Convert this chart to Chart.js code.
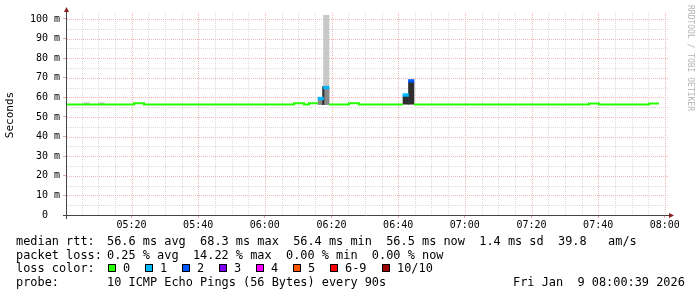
<!DOCTYPE html>
<html>
<head>
<meta charset="utf-8">
<script src="https://cdn.jsdelivr.net/npm/chart.js@4.4.1/dist/chart.umd.min.js"></script>
<style>
  html, body { margin: 0; padding: 0; background: #fff; }
  canvas { display: block; }
</style>
</head>
<body>
<canvas id="smoke" width="697" height="297" style="width:697px;height:297px"></canvas>
<script>
// time axis: minutes after 05:00:00, graph spans 05:00:39 .. 08:00:39
const xMin = 0.65, xMax = 180.65;
const xTickMinutes = [20, 40, 60, 80, 100, 120, 140, 160, 180];
const xTickLabels  = ['05:20', '05:40', '06:00', '06:20', '06:40', '07:00', '07:20', '07:40', '08:00'];
const yTickValues  = [0, 10, 20, 30, 40, 50, 60, 70, 80, 90, 100];
const yTickLabels  = ['0  ', '10 m', '20 m', '30 m', '40 m', '50 m', '60 m', '70 m', '80 m', '90 m', '100 m'];
const yMax = 102;

// median rtt without loss (ms), change points of a step line, null = gap
const medianMin = [0.65, 20.75, 23.75, 68.75, 71.75, 73.25, 75.95, 76.0, 79.25, 85.25, 88.25, 101.45, 101.5, 104.75, 157.25, 160.25, 175.25, 178.25];
const medianMs  = [56.4, 57.0,  56.4,  57.0,  56.4,  57.0,  57.0,  null, 56.4,  57.0,  56.4,  56.4,   null,  56.4,   56.9,   56.4,   56.9,   56.9];

// smoke (ping spread) per sample: light / mid / dark shades
const smokeLightMin = [6.5, 11.0, 78.43];
const smokeLightLo  = [56.4, 56.4, 56.5];
const smokeLightHi  = [57.3, 57.3, 102.0];
const smokeMidMin   = [76.78, 78.43];
const smokeMidLo    = [56.3, 56.3];
const smokeMidHi    = [58.8, 64.4];
const smokeDarkMin  = [102.27, 103.92];
const smokeDarkLo   = [56.5, 56.5];
const smokeDarkHi   = [60.8, 67.9];
const smokeEdgeMin  = [77.54];
const smokeEdgeLo   = [56.3];
const smokeEdgeHi   = [65.5];

// median rtt of samples with loss
const lossMin   = [76.78, 78.43, 102.27, 103.92];
const lossMs    = [59.4, 65.0, 61.2, 68.4];
const lossCount = [1, 1, 1, 2];

const lossColors = ['#26ff00', '#00b8ff', '#0059ff', '#7e00ff', '#ff00ff', '#ff5500', '#ff0000', '#a10000'];
const lossLabels = ['0', '1', '2', '3', '4', '5', '6-9', '10/10'];

const legendRows = [
  ['median rtt:',  '56.6 ms avg  68.3 ms max  56.4 ms min  56.5 ms now  1.4 ms sd  39.8   am/s'],
  ['packet loss:', '0.25 % avg  14.22 % max  0.00 % min  0.00 % now'],
  ['loss color:',  ''],
  ['probe:',       '10 ICMP Echo Pings (56 Bytes) every 90s'],
];
const dateStamp = 'Fri Jan  9 08:00:39 2026';
const watermark = 'RRDTOOL / TOBI OETIKER';

// ── helpers ───────────────────────────────────────────
const MONO = '"DejaVu Sans Mono", monospace';
const majorGrid = '#f2b8b8';
const minorGrid = '#dcdcdc';

const ranges = (xs, lo, hi) => xs.map((x, i) => ({ x, y: [lo[i], hi[i]] }));

function smokeSet(xs, lo, hi, color, thickness, order) {
  return {
    type: 'bar',
    data: ranges(xs, lo, hi),
    backgroundColor: color,
    borderWidth: 0,
    barThickness: thickness,
    grouped: false,
    order,
  };
}

const minorX = [];
for (let m = 5; m <= 180; m += 5) minorX.push(m);
const minorY = [];
for (let v = 5; v <= 100; v += 5) minorY.push(v);

// ── dotted rrd-style grid, drawn from the chart's own scales ──
const rrdGrid = {
  id: 'rrdGrid',
  beforeDatasetsDraw(chart) {
    const ctx = chart.ctx, a = chart.chartArea;
    const xs = chart.scales.x, ys = chart.scales.y;
    ctx.save();
    ctx.lineWidth = 1;
    ctx.setLineDash([1, 1]);
    const pass = major => {
      ctx.strokeStyle = major ? majorGrid : minorGrid;
      ctx.beginPath();
      minorY.filter(v => (v % 10 === 0) === major).forEach(v => {
        const py = Math.round(ys.getPixelForValue(v)) + 0.5;
        ctx.moveTo(a.left, py);
        ctx.lineTo(a.right + 1, py);
      });
      minorX.filter(m => xTickMinutes.includes(m) === major).forEach(m => {
        const px = Math.round(xs.getPixelForValue(m)) + 0.5;
        ctx.moveTo(px, a.top - 2);
        ctx.lineTo(px, a.bottom);
      });
      ctx.stroke();
    };
    pass(false);
    pass(true);
    ctx.restore();
  },
};

// ── extra drawing: axes, arrows, legend, watermark ────
const rrdDecor = {
  id: 'rrdDecor',
  beforeDraw(chart) {
    const ctx = chart.ctx;
    ctx.save();
    ctx.fillStyle = '#fff';
    ctx.fillRect(0, 0, chart.width, chart.height);
    ctx.restore();
  },
  afterDraw(chart) {
    const ctx = chart.ctx, a = chart.chartArea;
    ctx.save();

    // axes
    ctx.strokeStyle = '#444';
    ctx.lineWidth = 1;
    ctx.beginPath();
    ctx.moveTo(a.left - 0.5, a.top - 3);
    ctx.lineTo(a.left - 0.5, a.bottom + 4);
    ctx.moveTo(a.left - 4, a.bottom + 0.5);
    ctx.lineTo(a.right + 3, a.bottom + 0.5);
    ctx.stroke();

    // arrows
    ctx.fillStyle = '#8b1c1c';
    ctx.beginPath();
    ctx.moveTo(a.left - 3, a.top - 3);
    ctx.lineTo(a.left + 2, a.top - 3);
    ctx.lineTo(a.left - 0.5, a.top - 8);
    ctx.closePath();
    ctx.fill();
    ctx.beginPath();
    ctx.moveTo(a.right + 2, a.bottom - 2);
    ctx.lineTo(a.right + 2, a.bottom + 3);
    ctx.lineTo(a.right + 7, a.bottom + 0.5);
    ctx.closePath();
    ctx.fill();

    // legend
    ctx.font = '11.9px ' + MONO;
    ctx.fillStyle = '#000';
    ctx.textBaseline = 'middle';
    ctx.textAlign = 'left';
    const rowY = [241.5, 255.5, 269, 283];
    legendRows.forEach((r, i) => {
      ctx.fillText(r[0], 16, rowY[i]);
      if (r[1]) ctx.fillText(r[1], 107, rowY[i]);
    });
    ctx.fillText(dateStamp, 513, rowY[3]);

    const boxX = [108, 145, 182, 219, 256, 293, 330, 382];
    boxX.forEach((bx, i) => {
      ctx.fillStyle = lossColors[i];
      ctx.fillRect(bx, 264, 8, 8);
      ctx.strokeStyle = '#000';
      ctx.strokeRect(bx + 0.5, 264.5, 7, 7);
      ctx.fillStyle = '#000';
      ctx.fillText(lossLabels[i], bx + 15, rowY[2]);
    });

    // watermark
    ctx.translate(690, 5);
    ctx.rotate(Math.PI / 2);
    ctx.font = '8px ' + MONO;
    ctx.fillStyle = '#b4b4b4';
    ctx.fillText(watermark, 0, 0);

    ctx.restore();
  },
};

// ── chart ─────────────────────────────────────────────
new Chart(document.getElementById('smoke').getContext('2d'), {
  type: 'bar',
  data: {
    datasets: [
      {
        type: 'line',
        data: medianMin.map((x, i) => ({ x, y: medianMs[i] })),
        borderColor: lossColors[0],
        borderWidth: 2,
        borderCapStyle: 'butt',
        borderJoinStyle: 'miter',
        stepped: true,
        pointRadius: 0,
        fill: false,
        spanGaps: false,
        order: 0,
      },
      {
        type: 'bar',
        data: lossMin.map((x, i) => ({ x, y: [lossMs[i] - 0.7, lossMs[i] + 0.7] })),
        backgroundColor: lossCount.map(c => lossColors[c]),
        borderWidth: 0,
        barThickness: 5.5,
        grouped: false,
        order: 1,
      },
      smokeSet(smokeEdgeMin, smokeEdgeLo, smokeEdgeHi, '#303030', 1.5, 2),
      smokeSet(smokeDarkMin, smokeDarkLo, smokeDarkHi, '#2e2e2e', 5.5, 3),
      smokeSet(smokeMidMin, smokeMidLo, smokeMidHi, '#8a8a8a', 5.5, 4),
      smokeSet(smokeLightMin, smokeLightLo, smokeLightHi, '#c8c8c8', 5.5, 5),
    ],
  },
  options: {
    responsive: false,
    animation: false,
    events: [],
    layout: { padding: { left: 0, right: 30, top: 15, bottom: 0 } },
    plugins: {
      legend: { display: false },
      tooltip: { enabled: false },
    },
    scales: {
      x: {
        type: 'linear',
        min: xMin,
        max: xMax,
        offset: false,
        grid: {
          offset: false,
          drawOnChartArea: false,
          tickColor: '#e0a8a8',
          tickLength: 3,
        },
        border: { display: false },
        ticks: {
          autoSkip: false,
          maxRotation: 0,
          padding: 1,
          color: '#000',
          font: { family: MONO, size: 10 },
          callback: v => {
            const i = xTickMinutes.indexOf(v);
            return i >= 0 ? xTickLabels[i] : '';
          },
        },
        afterBuildTicks: s => { s.ticks = xTickMinutes.map(value => ({ value })); },
        afterFit: s => { s.height = 82; },
      },
      y: {
        type: 'linear',
        min: 0,
        max: yMax,
        grid: {
          drawOnChartArea: false,
          tickColor: '#e0a8a8',
          tickLength: 4,
        },
        border: { display: false },
        ticks: {
          padding: 3,
          color: '#000',
          font: { family: MONO, size: 10 },
          callback: v => {
            const i = yTickValues.indexOf(v);
            return i >= 0 ? yTickLabels[i] : '';
          },
        },
        title: {
          display: true,
          text: 'Seconds',
          color: '#000',
          font: { family: MONO, size: 11 },
          padding: { top: 4, bottom: 0 },
        },
        afterBuildTicks: s => { s.ticks = yTickValues.map(value => ({ value })); },
        afterFit: s => { s.width = 67; },
      },
    },
  },
  plugins: [rrdGrid, rrdDecor],
});
</script>
</body>
</html>
